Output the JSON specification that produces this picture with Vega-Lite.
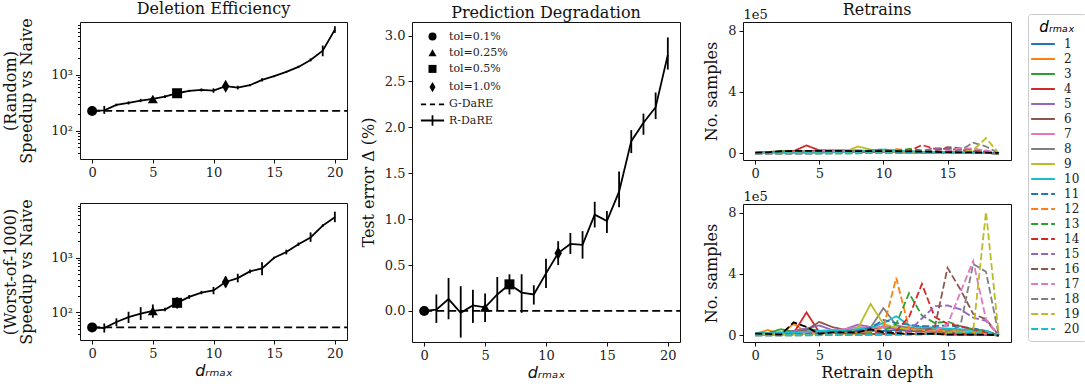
{
"$schema":"https://vega.github.io/schema/vega-lite/v6.json",
"background":"white",
"padding":{"left":2,"top":0,"right":0,"bottom":2},
"config":{
 "font":"DejaVu Serif",
 "view":{"stroke":"#111","strokeWidth":1},
 "axis":{"grid":false,"domain":false,"tickColor":"#111","tickSize":4,"tickWidth":1,"labelFont":"DejaVu Serif","labelFontSize":13,"labelColor":"#222","labelPadding":3,"labelFlush":false,"titleFont":"DejaVu Serif","titleFontSize":16,"titleFontWeight":"normal","titleColor":"#111"},
 "title":{"font":"DejaVu Serif","fontSize":16,"fontWeight":"normal","color":"#111","offset":1},
 "legend":{"labelFont":"DejaVu Serif","labelColor":"#222"}
},
"datasets":{
 "eff":[
  {"p":"Random","x":0,"y":226,"lo":215,"hi":238},{"p":"Random","x":1,"y":232,"lo":200,"hi":278},{"p":"Random","x":2,"y":289,"lo":275,"hi":305},{"p":"Random","x":3,"y":314,"lo":295,"hi":335},{"p":"Random","x":4,"y":347,"lo":325,"hi":372},{"p":"Random","x":5,"y":370,"lo":345,"hi":395},{"p":"Random","x":6,"y":408,"lo":385,"hi":432},{"p":"Random","x":7,"y":469,"lo":440,"hi":500},{"p":"Random","x":8,"y":516,"lo":495,"hi":540},{"p":"Random","x":9,"y":538,"lo":505,"hi":572},{"p":"Random","x":10,"y":523,"lo":478,"hi":575},{"p":"Random","x":11,"y":627,"lo":560,"hi":700},{"p":"Random","x":12,"y":592,"lo":550,"hi":640},{"p":"Random","x":13,"y":653,"lo":625,"hi":685},{"p":"Random","x":14,"y":813,"lo":760,"hi":870},{"p":"Random","x":15,"y":948,"lo":910,"hi":990},{"p":"Random","x":16,"y":1132,"lo":1090,"hi":1180},{"p":"Random","x":17,"y":1392,"lo":1330,"hi":1460},{"p":"Random","x":18,"y":1859,"lo":1750,"hi":1980},{"p":"Random","x":19,"y":2731,"lo":2160,"hi":3360},{"p":"Random","x":20,"y":6500,"lo":5680,"hi":7480},
  {"p":"Worst","x":0,"y":53.4,"lo":51,"hi":56},{"p":"Worst","x":1,"y":52,"lo":43,"hi":63},{"p":"Worst","x":2,"y":67,"lo":56,"hi":78},{"p":"Worst","x":3,"y":82,"lo":64,"hi":103},{"p":"Worst","x":4,"y":95,"lo":73,"hi":125},{"p":"Worst","x":5,"y":107,"lo":80,"hi":140},{"p":"Worst","x":6,"y":113,"lo":105,"hi":122},{"p":"Worst","x":7,"y":150,"lo":118,"hi":190},{"p":"Worst","x":8,"y":193,"lo":178,"hi":208},{"p":"Worst","x":9,"y":231,"lo":215,"hi":248},{"p":"Worst","x":10,"y":253,"lo":215,"hi":292},{"p":"Worst","x":11,"y":360,"lo":290,"hi":450},{"p":"Worst","x":12,"y":425,"lo":355,"hi":510},{"p":"Worst","x":13,"y":563,"lo":520,"hi":610},{"p":"Worst","x":14,"y":640,"lo":480,"hi":830},{"p":"Worst","x":15,"y":1000,"lo":960,"hi":1040},{"p":"Worst","x":16,"y":1270,"lo":1150,"hi":1400},{"p":"Worst","x":17,"y":1770,"lo":1650,"hi":1900},{"p":"Worst","x":18,"y":2350,"lo":1950,"hi":2900},{"p":"Worst","x":19,"y":3860,"lo":3650,"hi":4080},{"p":"Worst","x":20,"y":5500,"lo":4460,"hi":6950},
  {"p":"Deg","x":0,"y":0,"lo":0,"hi":0},{"p":"Deg","x":1,"y":0.015,"lo":-0.13,"hi":0.18},{"p":"Deg","x":2,"y":0.13,"lo":-0.09,"hi":0.36},{"p":"Deg","x":3,"y":-0.02,"lo":-0.29,"hi":0.27},{"p":"Deg","x":4,"y":0.06,"lo":-0.13,"hi":0.23},{"p":"Deg","x":5,"y":0.04,"lo":-0.12,"hi":0.19},{"p":"Deg","x":6,"y":0.18,"lo":0.0,"hi":0.37},{"p":"Deg","x":7,"y":0.29,"lo":0.18,"hi":0.4},{"p":"Deg","x":8,"y":0.2,"lo":-0.02,"hi":0.4},{"p":"Deg","x":9,"y":0.18,"lo":0.07,"hi":0.28},{"p":"Deg","x":10,"y":0.41,"lo":0.25,"hi":0.57},{"p":"Deg","x":11,"y":0.63,"lo":0.5,"hi":0.76},{"p":"Deg","x":12,"y":0.73,"lo":0.62,"hi":0.85},{"p":"Deg","x":13,"y":0.72,"lo":0.57,"hi":0.87},{"p":"Deg","x":14,"y":1.05,"lo":0.91,"hi":1.19},{"p":"Deg","x":15,"y":0.98,"lo":0.85,"hi":1.09},{"p":"Deg","x":16,"y":1.3,"lo":1.13,"hi":1.52},{"p":"Deg","x":17,"y":1.85,"lo":1.72,"hi":1.97},{"p":"Deg","x":18,"y":2.05,"lo":1.92,"hi":2.15},{"p":"Deg","x":19,"y":2.22,"lo":2.09,"hi":2.38},{"p":"Deg","x":20,"y":2.79,"lo":2.63,"hi":2.98}
 ],
 "tol":[
  {"p":"Random","x":0,"y":226,"tol":"tol=0.1%"},{"p":"Random","x":5,"y":370,"tol":"tol=0.25%"},{"p":"Random","x":7,"y":469,"tol":"tol=0.5%"},{"p":"Random","x":11,"y":627,"tol":"tol=1.0%"},
  {"p":"Worst","x":0,"y":53.4,"tol":"tol=0.1%"},{"p":"Worst","x":5,"y":107,"tol":"tol=0.25%"},{"p":"Worst","x":7,"y":150,"tol":"tol=0.5%"},{"p":"Worst","x":11,"y":360,"tol":"tol=1.0%"},
  {"p":"Deg","x":0,"y":0,"tol":"tol=0.1%"},{"p":"Deg","x":5,"y":0.04,"tol":"tol=0.25%"},{"p":"Deg","x":7,"y":0.29,"tol":"tol=0.5%"},{"p":"Deg","x":11,"y":0.63,"tol":"tol=1.0%"}
 ],
 "base":[
  {"p":"Random","x0":0,"x1":21,"g":226},{"p":"Worst","x0":0,"x1":21,"g":53.4},{"p":"Deg","x0":0,"x1":21,"g":0}
 ],
 "gd":[
  {"p":"R","d":0,"v":5000},{"p":"R","d":1,"v":7000},{"p":"R","d":2,"v":14000},{"p":"R","d":3,"v":16000},{"p":"R","d":4,"v":17000},{"p":"R","d":5,"v":17000},{"p":"R","d":6,"v":17000},{"p":"R","d":7,"v":16000},{"p":"R","d":8,"v":15000},{"p":"R","d":9,"v":15000},{"p":"R","d":10,"v":15000},{"p":"R","d":11,"v":14000},{"p":"R","d":12,"v":13000},{"p":"R","d":13,"v":12000},{"p":"R","d":14,"v":10000},{"p":"R","d":15,"v":8000},{"p":"R","d":16,"v":7000},{"p":"R","d":17,"v":6000},{"p":"R","d":18,"v":5000},{"p":"R","d":19,"v":3000},
  {"p":"W","d":0,"v":12000},{"p":"W","d":1,"v":10000},{"p":"W","d":2,"v":5000},{"p":"W","d":3,"v":85000},{"p":"W","d":4,"v":55000},{"p":"W","d":5,"v":10000},{"p":"W","d":6,"v":20000},{"p":"W","d":7,"v":20000},{"p":"W","d":8,"v":20000},{"p":"W","d":9,"v":40000},{"p":"W","d":10,"v":20000},{"p":"W","d":11,"v":15000},{"p":"W","d":12,"v":10000},{"p":"W","d":13,"v":10000},{"p":"W","d":14,"v":10000},{"p":"W","d":15,"v":5000},{"p":"W","d":16,"v":5000},{"p":"W","d":17,"v":5000},{"p":"W","d":18,"v":5000},{"p":"W","d":19,"v":0}
 ],
 "ret":[
  {"p":"R","s":1,"d":0,"v":5000},{"p":"R","s":1,"d":1,"v":5000},{"p":"R","s":1,"d":2,"v":8000},{"p":"R","s":1,"d":3,"v":10000},{"p":"R","s":1,"d":4,"v":10000},{"p":"R","s":1,"d":5,"v":10000},{"p":"R","s":1,"d":6,"v":10000},{"p":"R","s":1,"d":7,"v":8000},{"p":"R","s":1,"d":8,"v":8000},{"p":"R","s":1,"d":9,"v":8000},{"p":"R","s":1,"d":10,"v":8000},{"p":"R","s":1,"d":11,"v":8000},{"p":"R","s":1,"d":12,"v":7000},{"p":"R","s":1,"d":13,"v":6000},{"p":"R","s":1,"d":14,"v":5000},{"p":"R","s":1,"d":15,"v":5000},{"p":"R","s":1,"d":16,"v":4000},{"p":"R","s":1,"d":17,"v":3000},{"p":"R","s":1,"d":18,"v":2000},{"p":"R","s":1,"d":19,"v":0},
  {"p":"R","s":2,"d":0,"v":5000},{"p":"R","s":2,"d":1,"v":10000},{"p":"R","s":2,"d":2,"v":12000},{"p":"R","s":2,"d":3,"v":12000},{"p":"R","s":2,"d":4,"v":12000},{"p":"R","s":2,"d":5,"v":10000},{"p":"R","s":2,"d":6,"v":10000},{"p":"R","s":2,"d":7,"v":10000},{"p":"R","s":2,"d":8,"v":10000},{"p":"R","s":2,"d":9,"v":10000},{"p":"R","s":2,"d":10,"v":12000},{"p":"R","s":2,"d":11,"v":15000},{"p":"R","s":2,"d":12,"v":10000},{"p":"R","s":2,"d":13,"v":8000},{"p":"R","s":2,"d":14,"v":8000},{"p":"R","s":2,"d":15,"v":6000},{"p":"R","s":2,"d":16,"v":5000},{"p":"R","s":2,"d":17,"v":4000},{"p":"R","s":2,"d":18,"v":3000},{"p":"R","s":2,"d":19,"v":0},
  {"p":"R","s":3,"d":0,"v":3000},{"p":"R","s":3,"d":1,"v":8000},{"p":"R","s":3,"d":2,"v":15000},{"p":"R","s":3,"d":3,"v":15000},{"p":"R","s":3,"d":4,"v":12000},{"p":"R","s":3,"d":5,"v":12000},{"p":"R","s":3,"d":6,"v":10000},{"p":"R","s":3,"d":7,"v":10000},{"p":"R","s":3,"d":8,"v":10000},{"p":"R","s":3,"d":9,"v":8000},{"p":"R","s":3,"d":10,"v":8000},{"p":"R","s":3,"d":11,"v":10000},{"p":"R","s":3,"d":12,"v":12000},{"p":"R","s":3,"d":13,"v":8000},{"p":"R","s":3,"d":14,"v":6000},{"p":"R","s":3,"d":15,"v":5000},{"p":"R","s":3,"d":16,"v":5000},{"p":"R","s":3,"d":17,"v":4000},{"p":"R","s":3,"d":18,"v":3000},{"p":"R","s":3,"d":19,"v":0},
  {"p":"R","s":4,"d":0,"v":3000},{"p":"R","s":4,"d":1,"v":5000},{"p":"R","s":4,"d":2,"v":10000},{"p":"R","s":4,"d":3,"v":15000},{"p":"R","s":4,"d":4,"v":52000},{"p":"R","s":4,"d":5,"v":20000},{"p":"R","s":4,"d":6,"v":15000},{"p":"R","s":4,"d":7,"v":12000},{"p":"R","s":4,"d":8,"v":10000},{"p":"R","s":4,"d":9,"v":10000},{"p":"R","s":4,"d":10,"v":8000},{"p":"R","s":4,"d":11,"v":8000},{"p":"R","s":4,"d":12,"v":8000},{"p":"R","s":4,"d":13,"v":7000},{"p":"R","s":4,"d":14,"v":6000},{"p":"R","s":4,"d":15,"v":5000},{"p":"R","s":4,"d":16,"v":5000},{"p":"R","s":4,"d":17,"v":4000},{"p":"R","s":4,"d":18,"v":3000},{"p":"R","s":4,"d":19,"v":0},
  {"p":"R","s":5,"d":0,"v":2000},{"p":"R","s":5,"d":1,"v":4000},{"p":"R","s":5,"d":2,"v":6000},{"p":"R","s":5,"d":3,"v":10000},{"p":"R","s":5,"d":4,"v":12000},{"p":"R","s":5,"d":5,"v":20000},{"p":"R","s":5,"d":6,"v":15000},{"p":"R","s":5,"d":7,"v":12000},{"p":"R","s":5,"d":8,"v":10000},{"p":"R","s":5,"d":9,"v":10000},{"p":"R","s":5,"d":10,"v":8000},{"p":"R","s":5,"d":11,"v":8000},{"p":"R","s":5,"d":12,"v":7000},{"p":"R","s":5,"d":13,"v":6000},{"p":"R","s":5,"d":14,"v":5000},{"p":"R","s":5,"d":15,"v":5000},{"p":"R","s":5,"d":16,"v":4000},{"p":"R","s":5,"d":17,"v":3000},{"p":"R","s":5,"d":18,"v":2000},{"p":"R","s":5,"d":19,"v":0},
  {"p":"R","s":6,"d":0,"v":2000},{"p":"R","s":6,"d":1,"v":3000},{"p":"R","s":6,"d":2,"v":5000},{"p":"R","s":6,"d":3,"v":8000},{"p":"R","s":6,"d":4,"v":12000},{"p":"R","s":6,"d":5,"v":18000},{"p":"R","s":6,"d":6,"v":20000},{"p":"R","s":6,"d":7,"v":15000},{"p":"R","s":6,"d":8,"v":12000},{"p":"R","s":6,"d":9,"v":10000},{"p":"R","s":6,"d":10,"v":10000},{"p":"R","s":6,"d":11,"v":8000},{"p":"R","s":6,"d":12,"v":7000},{"p":"R","s":6,"d":13,"v":6000},{"p":"R","s":6,"d":14,"v":5000},{"p":"R","s":6,"d":15,"v":5000},{"p":"R","s":6,"d":16,"v":4000},{"p":"R","s":6,"d":17,"v":3000},{"p":"R","s":6,"d":18,"v":2000},{"p":"R","s":6,"d":19,"v":0},
  {"p":"R","s":7,"d":0,"v":2000},{"p":"R","s":7,"d":1,"v":3000},{"p":"R","s":7,"d":2,"v":4000},{"p":"R","s":7,"d":3,"v":6000},{"p":"R","s":7,"d":4,"v":10000},{"p":"R","s":7,"d":5,"v":12000},{"p":"R","s":7,"d":6,"v":22000},{"p":"R","s":7,"d":7,"v":22000},{"p":"R","s":7,"d":8,"v":18000},{"p":"R","s":7,"d":9,"v":15000},{"p":"R","s":7,"d":10,"v":12000},{"p":"R","s":7,"d":11,"v":10000},{"p":"R","s":7,"d":12,"v":8000},{"p":"R","s":7,"d":13,"v":7000},{"p":"R","s":7,"d":14,"v":6000},{"p":"R","s":7,"d":15,"v":5000},{"p":"R","s":7,"d":16,"v":4000},{"p":"R","s":7,"d":17,"v":3000},{"p":"R","s":7,"d":18,"v":2000},{"p":"R","s":7,"d":19,"v":0},
  {"p":"R","s":8,"d":0,"v":2000},{"p":"R","s":8,"d":1,"v":2000},{"p":"R","s":8,"d":2,"v":3000},{"p":"R","s":8,"d":3,"v":5000},{"p":"R","s":8,"d":4,"v":6000},{"p":"R","s":8,"d":5,"v":8000},{"p":"R","s":8,"d":6,"v":12000},{"p":"R","s":8,"d":7,"v":15000},{"p":"R","s":8,"d":8,"v":20000},{"p":"R","s":8,"d":9,"v":15000},{"p":"R","s":8,"d":10,"v":12000},{"p":"R","s":8,"d":11,"v":10000},{"p":"R","s":8,"d":12,"v":8000},{"p":"R","s":8,"d":13,"v":7000},{"p":"R","s":8,"d":14,"v":6000},{"p":"R","s":8,"d":15,"v":5000},{"p":"R","s":8,"d":16,"v":4000},{"p":"R","s":8,"d":17,"v":3000},{"p":"R","s":8,"d":18,"v":2000},{"p":"R","s":8,"d":19,"v":0},
  {"p":"R","s":9,"d":0,"v":1000},{"p":"R","s":9,"d":1,"v":2000},{"p":"R","s":9,"d":2,"v":3000},{"p":"R","s":9,"d":3,"v":4000},{"p":"R","s":9,"d":4,"v":5000},{"p":"R","s":9,"d":5,"v":6000},{"p":"R","s":9,"d":6,"v":8000},{"p":"R","s":9,"d":7,"v":10000},{"p":"R","s":9,"d":8,"v":45000},{"p":"R","s":9,"d":9,"v":25000},{"p":"R","s":9,"d":10,"v":15000},{"p":"R","s":9,"d":11,"v":12000},{"p":"R","s":9,"d":12,"v":10000},{"p":"R","s":9,"d":13,"v":8000},{"p":"R","s":9,"d":14,"v":7000},{"p":"R","s":9,"d":15,"v":6000},{"p":"R","s":9,"d":16,"v":5000},{"p":"R","s":9,"d":17,"v":4000},{"p":"R","s":9,"d":18,"v":3000},{"p":"R","s":9,"d":19,"v":0},
  {"p":"R","s":10,"d":0,"v":5000},{"p":"R","s":10,"d":1,"v":5000},{"p":"R","s":10,"d":2,"v":5000},{"p":"R","s":10,"d":3,"v":5000},{"p":"R","s":10,"d":4,"v":5000},{"p":"R","s":10,"d":5,"v":5000},{"p":"R","s":10,"d":6,"v":6000},{"p":"R","s":10,"d":7,"v":8000},{"p":"R","s":10,"d":8,"v":10000},{"p":"R","s":10,"d":9,"v":22000},{"p":"R","s":10,"d":10,"v":25000},{"p":"R","s":10,"d":11,"v":20000},{"p":"R","s":10,"d":12,"v":15000},{"p":"R","s":10,"d":13,"v":10000},{"p":"R","s":10,"d":14,"v":8000},{"p":"R","s":10,"d":15,"v":6000},{"p":"R","s":10,"d":16,"v":5000},{"p":"R","s":10,"d":17,"v":4000},{"p":"R","s":10,"d":18,"v":3000},{"p":"R","s":10,"d":19,"v":0},
  {"p":"R","s":11,"d":0,"v":1000},{"p":"R","s":11,"d":1,"v":2000},{"p":"R","s":11,"d":2,"v":2000},{"p":"R","s":11,"d":3,"v":3000},{"p":"R","s":11,"d":4,"v":4000},{"p":"R","s":11,"d":5,"v":5000},{"p":"R","s":11,"d":6,"v":6000},{"p":"R","s":11,"d":7,"v":8000},{"p":"R","s":11,"d":8,"v":10000},{"p":"R","s":11,"d":9,"v":15000},{"p":"R","s":11,"d":10,"v":25000},{"p":"R","s":11,"d":11,"v":20000},{"p":"R","s":11,"d":12,"v":15000},{"p":"R","s":11,"d":13,"v":12000},{"p":"R","s":11,"d":14,"v":10000},{"p":"R","s":11,"d":15,"v":8000},{"p":"R","s":11,"d":16,"v":6000},{"p":"R","s":11,"d":17,"v":5000},{"p":"R","s":11,"d":18,"v":3000},{"p":"R","s":11,"d":19,"v":0},
  {"p":"R","s":12,"d":0,"v":1000},{"p":"R","s":12,"d":1,"v":1000},{"p":"R","s":12,"d":2,"v":2000},{"p":"R","s":12,"d":3,"v":2000},{"p":"R","s":12,"d":4,"v":3000},{"p":"R","s":12,"d":5,"v":4000},{"p":"R","s":12,"d":6,"v":5000},{"p":"R","s":12,"d":7,"v":6000},{"p":"R","s":12,"d":8,"v":8000},{"p":"R","s":12,"d":9,"v":10000},{"p":"R","s":12,"d":10,"v":15000},{"p":"R","s":12,"d":11,"v":28000},{"p":"R","s":12,"d":12,"v":20000},{"p":"R","s":12,"d":13,"v":15000},{"p":"R","s":12,"d":14,"v":12000},{"p":"R","s":12,"d":15,"v":10000},{"p":"R","s":12,"d":16,"v":8000},{"p":"R","s":12,"d":17,"v":6000},{"p":"R","s":12,"d":18,"v":4000},{"p":"R","s":12,"d":19,"v":0},
  {"p":"R","s":13,"d":0,"v":1000},{"p":"R","s":13,"d":1,"v":1000},{"p":"R","s":13,"d":2,"v":1000},{"p":"R","s":13,"d":3,"v":2000},{"p":"R","s":13,"d":4,"v":2000},{"p":"R","s":13,"d":5,"v":3000},{"p":"R","s":13,"d":6,"v":4000},{"p":"R","s":13,"d":7,"v":5000},{"p":"R","s":13,"d":8,"v":6000},{"p":"R","s":13,"d":9,"v":8000},{"p":"R","s":13,"d":10,"v":10000},{"p":"R","s":13,"d":11,"v":15000},{"p":"R","s":13,"d":12,"v":30000},{"p":"R","s":13,"d":13,"v":20000},{"p":"R","s":13,"d":14,"v":15000},{"p":"R","s":13,"d":15,"v":12000},{"p":"R","s":13,"d":16,"v":10000},{"p":"R","s":13,"d":17,"v":8000},{"p":"R","s":13,"d":18,"v":5000},{"p":"R","s":13,"d":19,"v":0},
  {"p":"R","s":14,"d":0,"v":1000},{"p":"R","s":14,"d":1,"v":1000},{"p":"R","s":14,"d":2,"v":1000},{"p":"R","s":14,"d":3,"v":1000},{"p":"R","s":14,"d":4,"v":2000},{"p":"R","s":14,"d":5,"v":2000},{"p":"R","s":14,"d":6,"v":3000},{"p":"R","s":14,"d":7,"v":4000},{"p":"R","s":14,"d":8,"v":5000},{"p":"R","s":14,"d":9,"v":6000},{"p":"R","s":14,"d":10,"v":8000},{"p":"R","s":14,"d":11,"v":10000},{"p":"R","s":14,"d":12,"v":15000},{"p":"R","s":14,"d":13,"v":55000},{"p":"R","s":14,"d":14,"v":30000},{"p":"R","s":14,"d":15,"v":30000},{"p":"R","s":14,"d":16,"v":22000},{"p":"R","s":14,"d":17,"v":15000},{"p":"R","s":14,"d":18,"v":10000},{"p":"R","s":14,"d":19,"v":0},
  {"p":"R","s":15,"d":0,"v":1000},{"p":"R","s":15,"d":1,"v":1000},{"p":"R","s":15,"d":2,"v":1000},{"p":"R","s":15,"d":3,"v":1000},{"p":"R","s":15,"d":4,"v":1000},{"p":"R","s":15,"d":5,"v":2000},{"p":"R","s":15,"d":6,"v":2000},{"p":"R","s":15,"d":7,"v":3000},{"p":"R","s":15,"d":8,"v":4000},{"p":"R","s":15,"d":9,"v":5000},{"p":"R","s":15,"d":10,"v":6000},{"p":"R","s":15,"d":11,"v":8000},{"p":"R","s":15,"d":12,"v":10000},{"p":"R","s":15,"d":13,"v":15000},{"p":"R","s":15,"d":14,"v":35000},{"p":"R","s":15,"d":15,"v":32000},{"p":"R","s":15,"d":16,"v":25000},{"p":"R","s":15,"d":17,"v":20000},{"p":"R","s":15,"d":18,"v":12000},{"p":"R","s":15,"d":19,"v":0},
  {"p":"R","s":16,"d":0,"v":1000},{"p":"R","s":16,"d":1,"v":1000},{"p":"R","s":16,"d":2,"v":1000},{"p":"R","s":16,"d":3,"v":1000},{"p":"R","s":16,"d":4,"v":1000},{"p":"R","s":16,"d":5,"v":1000},{"p":"R","s":16,"d":6,"v":2000},{"p":"R","s":16,"d":7,"v":2000},{"p":"R","s":16,"d":8,"v":3000},{"p":"R","s":16,"d":9,"v":4000},{"p":"R","s":16,"d":10,"v":5000},{"p":"R","s":16,"d":11,"v":6000},{"p":"R","s":16,"d":12,"v":8000},{"p":"R","s":16,"d":13,"v":10000},{"p":"R","s":16,"d":14,"v":15000},{"p":"R","s":16,"d":15,"v":40000},{"p":"R","s":16,"d":16,"v":35000},{"p":"R","s":16,"d":17,"v":25000},{"p":"R","s":16,"d":18,"v":15000},{"p":"R","s":16,"d":19,"v":0},
  {"p":"R","s":17,"d":0,"v":1000},{"p":"R","s":17,"d":1,"v":1000},{"p":"R","s":17,"d":2,"v":1000},{"p":"R","s":17,"d":3,"v":1000},{"p":"R","s":17,"d":4,"v":1000},{"p":"R","s":17,"d":5,"v":1000},{"p":"R","s":17,"d":6,"v":1000},{"p":"R","s":17,"d":7,"v":2000},{"p":"R","s":17,"d":8,"v":2000},{"p":"R","s":17,"d":9,"v":3000},{"p":"R","s":17,"d":10,"v":4000},{"p":"R","s":17,"d":11,"v":5000},{"p":"R","s":17,"d":12,"v":6000},{"p":"R","s":17,"d":13,"v":8000},{"p":"R","s":17,"d":14,"v":10000},{"p":"R","s":17,"d":15,"v":15000},{"p":"R","s":17,"d":16,"v":35000},{"p":"R","s":17,"d":17,"v":30000},{"p":"R","s":17,"d":18,"v":20000},{"p":"R","s":17,"d":19,"v":0},
  {"p":"R","s":18,"d":0,"v":0},{"p":"R","s":18,"d":1,"v":1000},{"p":"R","s":18,"d":2,"v":1000},{"p":"R","s":18,"d":3,"v":1000},{"p":"R","s":18,"d":4,"v":1000},{"p":"R","s":18,"d":5,"v":1000},{"p":"R","s":18,"d":6,"v":1000},{"p":"R","s":18,"d":7,"v":1000},{"p":"R","s":18,"d":8,"v":2000},{"p":"R","s":18,"d":9,"v":2000},{"p":"R","s":18,"d":10,"v":3000},{"p":"R","s":18,"d":11,"v":4000},{"p":"R","s":18,"d":12,"v":5000},{"p":"R","s":18,"d":13,"v":6000},{"p":"R","s":18,"d":14,"v":8000},{"p":"R","s":18,"d":15,"v":10000},{"p":"R","s":18,"d":16,"v":20000},{"p":"R","s":18,"d":17,"v":70000},{"p":"R","s":18,"d":18,"v":45000},{"p":"R","s":18,"d":19,"v":0},
  {"p":"R","s":19,"d":0,"v":0},{"p":"R","s":19,"d":1,"v":0},{"p":"R","s":19,"d":2,"v":1000},{"p":"R","s":19,"d":3,"v":1000},{"p":"R","s":19,"d":4,"v":1000},{"p":"R","s":19,"d":5,"v":1000},{"p":"R","s":19,"d":6,"v":1000},{"p":"R","s":19,"d":7,"v":1000},{"p":"R","s":19,"d":8,"v":1000},{"p":"R","s":19,"d":9,"v":2000},{"p":"R","s":19,"d":10,"v":2000},{"p":"R","s":19,"d":11,"v":3000},{"p":"R","s":19,"d":12,"v":4000},{"p":"R","s":19,"d":13,"v":5000},{"p":"R","s":19,"d":14,"v":6000},{"p":"R","s":19,"d":15,"v":8000},{"p":"R","s":19,"d":16,"v":10000},{"p":"R","s":19,"d":17,"v":20000},{"p":"R","s":19,"d":18,"v":100000},{"p":"R","s":19,"d":19,"v":0},
  {"p":"R","s":20,"d":0,"v":1000},{"p":"R","s":20,"d":1,"v":1000},{"p":"R","s":20,"d":2,"v":1000},{"p":"R","s":20,"d":3,"v":1000},{"p":"R","s":20,"d":4,"v":1000},{"p":"R","s":20,"d":5,"v":1000},{"p":"R","s":20,"d":6,"v":1000},{"p":"R","s":20,"d":7,"v":1000},{"p":"R","s":20,"d":8,"v":1000},{"p":"R","s":20,"d":9,"v":2000},{"p":"R","s":20,"d":10,"v":2000},{"p":"R","s":20,"d":11,"v":2000},{"p":"R","s":20,"d":12,"v":3000},{"p":"R","s":20,"d":13,"v":3000},{"p":"R","s":20,"d":14,"v":4000},{"p":"R","s":20,"d":15,"v":5000},{"p":"R","s":20,"d":16,"v":5000},{"p":"R","s":20,"d":17,"v":6000},{"p":"R","s":20,"d":18,"v":8000},{"p":"R","s":20,"d":19,"v":0},
  {"p":"W","s":1,"d":0,"v":15000},{"p":"W","s":1,"d":1,"v":15000},{"p":"W","s":1,"d":2,"v":20000},{"p":"W","s":1,"d":3,"v":20000},{"p":"W","s":1,"d":4,"v":25000},{"p":"W","s":1,"d":5,"v":30000},{"p":"W","s":1,"d":6,"v":30000},{"p":"W","s":1,"d":7,"v":30000},{"p":"W","s":1,"d":8,"v":30000},{"p":"W","s":1,"d":9,"v":30000},{"p":"W","s":1,"d":10,"v":30000},{"p":"W","s":1,"d":11,"v":35000},{"p":"W","s":1,"d":12,"v":30000},{"p":"W","s":1,"d":13,"v":30000},{"p":"W","s":1,"d":14,"v":25000},{"p":"W","s":1,"d":15,"v":20000},{"p":"W","s":1,"d":16,"v":20000},{"p":"W","s":1,"d":17,"v":15000},{"p":"W","s":1,"d":18,"v":10000},{"p":"W","s":1,"d":19,"v":0},
  {"p":"W","s":2,"d":0,"v":10000},{"p":"W","s":2,"d":1,"v":35000},{"p":"W","s":2,"d":2,"v":10000},{"p":"W","s":2,"d":3,"v":75000},{"p":"W","s":2,"d":4,"v":20000},{"p":"W","s":2,"d":5,"v":15000},{"p":"W","s":2,"d":6,"v":15000},{"p":"W","s":2,"d":7,"v":10000},{"p":"W","s":2,"d":8,"v":10000},{"p":"W","s":2,"d":9,"v":10000},{"p":"W","s":2,"d":10,"v":10000},{"p":"W","s":2,"d":11,"v":10000},{"p":"W","s":2,"d":12,"v":10000},{"p":"W","s":2,"d":13,"v":10000},{"p":"W","s":2,"d":14,"v":10000},{"p":"W","s":2,"d":15,"v":10000},{"p":"W","s":2,"d":16,"v":10000},{"p":"W","s":2,"d":17,"v":5000},{"p":"W","s":2,"d":18,"v":5000},{"p":"W","s":2,"d":19,"v":0},
  {"p":"W","s":3,"d":0,"v":10000},{"p":"W","s":3,"d":1,"v":15000},{"p":"W","s":3,"d":2,"v":40000},{"p":"W","s":3,"d":3,"v":25000},{"p":"W","s":3,"d":4,"v":45000},{"p":"W","s":3,"d":5,"v":30000},{"p":"W","s":3,"d":6,"v":20000},{"p":"W","s":3,"d":7,"v":15000},{"p":"W","s":3,"d":8,"v":15000},{"p":"W","s":3,"d":9,"v":10000},{"p":"W","s":3,"d":10,"v":10000},{"p":"W","s":3,"d":11,"v":10000},{"p":"W","s":3,"d":12,"v":10000},{"p":"W","s":3,"d":13,"v":10000},{"p":"W","s":3,"d":14,"v":10000},{"p":"W","s":3,"d":15,"v":10000},{"p":"W","s":3,"d":16,"v":5000},{"p":"W","s":3,"d":17,"v":5000},{"p":"W","s":3,"d":18,"v":5000},{"p":"W","s":3,"d":19,"v":0},
  {"p":"W","s":4,"d":0,"v":5000},{"p":"W","s":4,"d":1,"v":5000},{"p":"W","s":4,"d":2,"v":10000},{"p":"W","s":4,"d":3,"v":15000},{"p":"W","s":4,"d":4,"v":150000},{"p":"W","s":4,"d":5,"v":20000},{"p":"W","s":4,"d":6,"v":20000},{"p":"W","s":4,"d":7,"v":15000},{"p":"W","s":4,"d":8,"v":15000},{"p":"W","s":4,"d":9,"v":10000},{"p":"W","s":4,"d":10,"v":10000},{"p":"W","s":4,"d":11,"v":10000},{"p":"W","s":4,"d":12,"v":10000},{"p":"W","s":4,"d":13,"v":10000},{"p":"W","s":4,"d":14,"v":10000},{"p":"W","s":4,"d":15,"v":5000},{"p":"W","s":4,"d":16,"v":5000},{"p":"W","s":4,"d":17,"v":5000},{"p":"W","s":4,"d":18,"v":5000},{"p":"W","s":4,"d":19,"v":0},
  {"p":"W","s":5,"d":0,"v":5000},{"p":"W","s":5,"d":1,"v":10000},{"p":"W","s":5,"d":2,"v":15000},{"p":"W","s":5,"d":3,"v":30000},{"p":"W","s":5,"d":4,"v":45000},{"p":"W","s":5,"d":5,"v":65000},{"p":"W","s":5,"d":6,"v":35000},{"p":"W","s":5,"d":7,"v":40000},{"p":"W","s":5,"d":8,"v":70000},{"p":"W","s":5,"d":9,"v":55000},{"p":"W","s":5,"d":10,"v":50000},{"p":"W","s":5,"d":11,"v":45000},{"p":"W","s":5,"d":12,"v":40000},{"p":"W","s":5,"d":13,"v":35000},{"p":"W","s":5,"d":14,"v":30000},{"p":"W","s":5,"d":15,"v":25000},{"p":"W","s":5,"d":16,"v":20000},{"p":"W","s":5,"d":17,"v":15000},{"p":"W","s":5,"d":18,"v":10000},{"p":"W","s":5,"d":19,"v":0},
  {"p":"W","s":6,"d":0,"v":5000},{"p":"W","s":6,"d":1,"v":5000},{"p":"W","s":6,"d":2,"v":10000},{"p":"W","s":6,"d":3,"v":20000},{"p":"W","s":6,"d":4,"v":35000},{"p":"W","s":6,"d":5,"v":88000},{"p":"W","s":6,"d":6,"v":55000},{"p":"W","s":6,"d":7,"v":35000},{"p":"W","s":6,"d":8,"v":30000},{"p":"W","s":6,"d":9,"v":35000},{"p":"W","s":6,"d":10,"v":60000},{"p":"W","s":6,"d":11,"v":45000},{"p":"W","s":6,"d":12,"v":30000},{"p":"W","s":6,"d":13,"v":25000},{"p":"W","s":6,"d":14,"v":20000},{"p":"W","s":6,"d":15,"v":15000},{"p":"W","s":6,"d":16,"v":15000},{"p":"W","s":6,"d":17,"v":10000},{"p":"W","s":6,"d":18,"v":5000},{"p":"W","s":6,"d":19,"v":0},
  {"p":"W","s":7,"d":0,"v":5000},{"p":"W","s":7,"d":1,"v":5000},{"p":"W","s":7,"d":2,"v":10000},{"p":"W","s":7,"d":3,"v":15000},{"p":"W","s":7,"d":4,"v":20000},{"p":"W","s":7,"d":5,"v":30000},{"p":"W","s":7,"d":6,"v":35000},{"p":"W","s":7,"d":7,"v":40000},{"p":"W","s":7,"d":8,"v":55000},{"p":"W","s":7,"d":9,"v":50000},{"p":"W","s":7,"d":10,"v":55000},{"p":"W","s":7,"d":11,"v":50000},{"p":"W","s":7,"d":12,"v":45000},{"p":"W","s":7,"d":13,"v":40000},{"p":"W","s":7,"d":14,"v":35000},{"p":"W","s":7,"d":15,"v":30000},{"p":"W","s":7,"d":16,"v":25000},{"p":"W","s":7,"d":17,"v":20000},{"p":"W","s":7,"d":18,"v":10000},{"p":"W","s":7,"d":19,"v":0},
  {"p":"W","s":8,"d":0,"v":5000},{"p":"W","s":8,"d":1,"v":5000},{"p":"W","s":8,"d":2,"v":5000},{"p":"W","s":8,"d":3,"v":10000},{"p":"W","s":8,"d":4,"v":10000},{"p":"W","s":8,"d":5,"v":15000},{"p":"W","s":8,"d":6,"v":20000},{"p":"W","s":8,"d":7,"v":25000},{"p":"W","s":8,"d":8,"v":35000},{"p":"W","s":8,"d":9,"v":50000},{"p":"W","s":8,"d":10,"v":178000},{"p":"W","s":8,"d":11,"v":65000},{"p":"W","s":8,"d":12,"v":50000},{"p":"W","s":8,"d":13,"v":45000},{"p":"W","s":8,"d":14,"v":40000},{"p":"W","s":8,"d":15,"v":35000},{"p":"W","s":8,"d":16,"v":30000},{"p":"W","s":8,"d":17,"v":25000},{"p":"W","s":8,"d":18,"v":15000},{"p":"W","s":8,"d":19,"v":0},
  {"p":"W","s":9,"d":0,"v":5000},{"p":"W","s":9,"d":1,"v":5000},{"p":"W","s":9,"d":2,"v":5000},{"p":"W","s":9,"d":3,"v":5000},{"p":"W","s":9,"d":4,"v":10000},{"p":"W","s":9,"d":5,"v":10000},{"p":"W","s":9,"d":6,"v":15000},{"p":"W","s":9,"d":7,"v":20000},{"p":"W","s":9,"d":8,"v":45000},{"p":"W","s":9,"d":9,"v":205000},{"p":"W","s":9,"d":10,"v":75000},{"p":"W","s":9,"d":11,"v":50000},{"p":"W","s":9,"d":12,"v":40000},{"p":"W","s":9,"d":13,"v":35000},{"p":"W","s":9,"d":14,"v":30000},{"p":"W","s":9,"d":15,"v":30000},{"p":"W","s":9,"d":16,"v":25000},{"p":"W","s":9,"d":17,"v":20000},{"p":"W","s":9,"d":18,"v":15000},{"p":"W","s":9,"d":19,"v":0},
  {"p":"W","s":10,"d":0,"v":15000},{"p":"W","s":10,"d":1,"v":15000},{"p":"W","s":10,"d":2,"v":15000},{"p":"W","s":10,"d":3,"v":20000},{"p":"W","s":10,"d":4,"v":25000},{"p":"W","s":10,"d":5,"v":30000},{"p":"W","s":10,"d":6,"v":30000},{"p":"W","s":10,"d":7,"v":35000},{"p":"W","s":10,"d":8,"v":40000},{"p":"W","s":10,"d":9,"v":50000},{"p":"W","s":10,"d":10,"v":80000},{"p":"W","s":10,"d":11,"v":125000},{"p":"W","s":10,"d":12,"v":65000},{"p":"W","s":10,"d":13,"v":55000},{"p":"W","s":10,"d":14,"v":50000},{"p":"W","s":10,"d":15,"v":45000},{"p":"W","s":10,"d":16,"v":40000},{"p":"W","s":10,"d":17,"v":35000},{"p":"W","s":10,"d":18,"v":25000},{"p":"W","s":10,"d":19,"v":0},
  {"p":"W","s":11,"d":0,"v":5000},{"p":"W","s":11,"d":1,"v":5000},{"p":"W","s":11,"d":2,"v":5000},{"p":"W","s":11,"d":3,"v":10000},{"p":"W","s":11,"d":4,"v":10000},{"p":"W","s":11,"d":5,"v":15000},{"p":"W","s":11,"d":6,"v":20000},{"p":"W","s":11,"d":7,"v":25000},{"p":"W","s":11,"d":8,"v":30000},{"p":"W","s":11,"d":9,"v":50000},{"p":"W","s":11,"d":10,"v":100000},{"p":"W","s":11,"d":11,"v":80000},{"p":"W","s":11,"d":12,"v":70000},{"p":"W","s":11,"d":13,"v":60000},{"p":"W","s":11,"d":14,"v":60000},{"p":"W","s":11,"d":15,"v":65000},{"p":"W","s":11,"d":16,"v":55000},{"p":"W","s":11,"d":17,"v":45000},{"p":"W","s":11,"d":18,"v":30000},{"p":"W","s":11,"d":19,"v":0},
  {"p":"W","s":12,"d":0,"v":2000},{"p":"W","s":12,"d":1,"v":2000},{"p":"W","s":12,"d":2,"v":3000},{"p":"W","s":12,"d":3,"v":5000},{"p":"W","s":12,"d":4,"v":5000},{"p":"W","s":12,"d":5,"v":5000},{"p":"W","s":12,"d":6,"v":10000},{"p":"W","s":12,"d":7,"v":10000},{"p":"W","s":12,"d":8,"v":15000},{"p":"W","s":12,"d":9,"v":20000},{"p":"W","s":12,"d":10,"v":50000},{"p":"W","s":12,"d":11,"v":375000},{"p":"W","s":12,"d":12,"v":45000},{"p":"W","s":12,"d":13,"v":35000},{"p":"W","s":12,"d":14,"v":30000},{"p":"W","s":12,"d":15,"v":30000},{"p":"W","s":12,"d":16,"v":25000},{"p":"W","s":12,"d":17,"v":20000},{"p":"W","s":12,"d":18,"v":15000},{"p":"W","s":12,"d":19,"v":0},
  {"p":"W","s":13,"d":0,"v":2000},{"p":"W","s":13,"d":1,"v":2000},{"p":"W","s":13,"d":2,"v":2000},{"p":"W","s":13,"d":3,"v":3000},{"p":"W","s":13,"d":4,"v":5000},{"p":"W","s":13,"d":5,"v":5000},{"p":"W","s":13,"d":6,"v":5000},{"p":"W","s":13,"d":7,"v":10000},{"p":"W","s":13,"d":8,"v":10000},{"p":"W","s":13,"d":9,"v":15000},{"p":"W","s":13,"d":10,"v":30000},{"p":"W","s":13,"d":11,"v":75000},{"p":"W","s":13,"d":12,"v":275000},{"p":"W","s":13,"d":13,"v":130000},{"p":"W","s":13,"d":14,"v":80000},{"p":"W","s":13,"d":15,"v":90000},{"p":"W","s":13,"d":16,"v":60000},{"p":"W","s":13,"d":17,"v":40000},{"p":"W","s":13,"d":18,"v":30000},{"p":"W","s":13,"d":19,"v":0},
  {"p":"W","s":14,"d":0,"v":2000},{"p":"W","s":14,"d":1,"v":2000},{"p":"W","s":14,"d":2,"v":2000},{"p":"W","s":14,"d":3,"v":2000},{"p":"W","s":14,"d":4,"v":3000},{"p":"W","s":14,"d":5,"v":5000},{"p":"W","s":14,"d":6,"v":5000},{"p":"W","s":14,"d":7,"v":5000},{"p":"W","s":14,"d":8,"v":10000},{"p":"W","s":14,"d":9,"v":10000},{"p":"W","s":14,"d":10,"v":20000},{"p":"W","s":14,"d":11,"v":30000},{"p":"W","s":14,"d":12,"v":120000},{"p":"W","s":14,"d":13,"v":335000},{"p":"W","s":14,"d":14,"v":120000},{"p":"W","s":14,"d":15,"v":75000},{"p":"W","s":14,"d":16,"v":60000},{"p":"W","s":14,"d":17,"v":40000},{"p":"W","s":14,"d":18,"v":20000},{"p":"W","s":14,"d":19,"v":0},
  {"p":"W","s":15,"d":0,"v":2000},{"p":"W","s":15,"d":1,"v":2000},{"p":"W","s":15,"d":2,"v":2000},{"p":"W","s":15,"d":3,"v":2000},{"p":"W","s":15,"d":4,"v":2000},{"p":"W","s":15,"d":5,"v":3000},{"p":"W","s":15,"d":6,"v":5000},{"p":"W","s":15,"d":7,"v":5000},{"p":"W","s":15,"d":8,"v":5000},{"p":"W","s":15,"d":9,"v":10000},{"p":"W","s":15,"d":10,"v":15000},{"p":"W","s":15,"d":11,"v":20000},{"p":"W","s":15,"d":12,"v":30000},{"p":"W","s":15,"d":13,"v":110000},{"p":"W","s":15,"d":14,"v":190000},{"p":"W","s":15,"d":15,"v":195000},{"p":"W","s":15,"d":16,"v":170000},{"p":"W","s":15,"d":17,"v":115000},{"p":"W","s":15,"d":18,"v":95000},{"p":"W","s":15,"d":19,"v":0},
  {"p":"W","s":16,"d":0,"v":2000},{"p":"W","s":16,"d":1,"v":2000},{"p":"W","s":16,"d":2,"v":2000},{"p":"W","s":16,"d":3,"v":2000},{"p":"W","s":16,"d":4,"v":2000},{"p":"W","s":16,"d":5,"v":2000},{"p":"W","s":16,"d":6,"v":3000},{"p":"W","s":16,"d":7,"v":5000},{"p":"W","s":16,"d":8,"v":5000},{"p":"W","s":16,"d":9,"v":5000},{"p":"W","s":16,"d":10,"v":10000},{"p":"W","s":16,"d":11,"v":15000},{"p":"W","s":16,"d":12,"v":20000},{"p":"W","s":16,"d":13,"v":30000},{"p":"W","s":16,"d":14,"v":50000},{"p":"W","s":16,"d":15,"v":440000},{"p":"W","s":16,"d":16,"v":300000},{"p":"W","s":16,"d":17,"v":140000},{"p":"W","s":16,"d":18,"v":105000},{"p":"W","s":16,"d":19,"v":0},
  {"p":"W","s":17,"d":0,"v":1000},{"p":"W","s":17,"d":1,"v":1000},{"p":"W","s":17,"d":2,"v":1000},{"p":"W","s":17,"d":3,"v":2000},{"p":"W","s":17,"d":4,"v":2000},{"p":"W","s":17,"d":5,"v":2000},{"p":"W","s":17,"d":6,"v":2000},{"p":"W","s":17,"d":7,"v":3000},{"p":"W","s":17,"d":8,"v":5000},{"p":"W","s":17,"d":9,"v":5000},{"p":"W","s":17,"d":10,"v":5000},{"p":"W","s":17,"d":11,"v":10000},{"p":"W","s":17,"d":12,"v":15000},{"p":"W","s":17,"d":13,"v":20000},{"p":"W","s":17,"d":14,"v":30000},{"p":"W","s":17,"d":15,"v":70000},{"p":"W","s":17,"d":16,"v":280000},{"p":"W","s":17,"d":17,"v":485000},{"p":"W","s":17,"d":18,"v":105000},{"p":"W","s":17,"d":19,"v":0},
  {"p":"W","s":18,"d":0,"v":1000},{"p":"W","s":18,"d":1,"v":1000},{"p":"W","s":18,"d":2,"v":1000},{"p":"W","s":18,"d":3,"v":1000},{"p":"W","s":18,"d":4,"v":2000},{"p":"W","s":18,"d":5,"v":2000},{"p":"W","s":18,"d":6,"v":2000},{"p":"W","s":18,"d":7,"v":2000},{"p":"W","s":18,"d":8,"v":3000},{"p":"W","s":18,"d":9,"v":5000},{"p":"W","s":18,"d":10,"v":5000},{"p":"W","s":18,"d":11,"v":5000},{"p":"W","s":18,"d":12,"v":10000},{"p":"W","s":18,"d":13,"v":15000},{"p":"W","s":18,"d":14,"v":20000},{"p":"W","s":18,"d":15,"v":30000},{"p":"W","s":18,"d":16,"v":60000},{"p":"W","s":18,"d":17,"v":465000},{"p":"W","s":18,"d":18,"v":415000},{"p":"W","s":18,"d":19,"v":0},
  {"p":"W","s":19,"d":0,"v":1000},{"p":"W","s":19,"d":1,"v":1000},{"p":"W","s":19,"d":2,"v":1000},{"p":"W","s":19,"d":3,"v":1000},{"p":"W","s":19,"d":4,"v":1000},{"p":"W","s":19,"d":5,"v":2000},{"p":"W","s":19,"d":6,"v":2000},{"p":"W","s":19,"d":7,"v":2000},{"p":"W","s":19,"d":8,"v":2000},{"p":"W","s":19,"d":9,"v":3000},{"p":"W","s":19,"d":10,"v":5000},{"p":"W","s":19,"d":11,"v":5000},{"p":"W","s":19,"d":12,"v":5000},{"p":"W","s":19,"d":13,"v":10000},{"p":"W","s":19,"d":14,"v":10000},{"p":"W","s":19,"d":15,"v":15000},{"p":"W","s":19,"d":16,"v":20000},{"p":"W","s":19,"d":17,"v":25000},{"p":"W","s":19,"d":18,"v":805000},{"p":"W","s":19,"d":19,"v":0},
  {"p":"W","s":20,"d":0,"v":1000},{"p":"W","s":20,"d":1,"v":1000},{"p":"W","s":20,"d":2,"v":1000},{"p":"W","s":20,"d":3,"v":1000},{"p":"W","s":20,"d":4,"v":1000},{"p":"W","s":20,"d":5,"v":1000},{"p":"W","s":20,"d":6,"v":2000},{"p":"W","s":20,"d":7,"v":2000},{"p":"W","s":20,"d":8,"v":2000},{"p":"W","s":20,"d":9,"v":3000},{"p":"W","s":20,"d":10,"v":3000},{"p":"W","s":20,"d":11,"v":5000},{"p":"W","s":20,"d":12,"v":5000},{"p":"W","s":20,"d":13,"v":5000},{"p":"W","s":20,"d":14,"v":10000},{"p":"W","s":20,"d":15,"v":10000},{"p":"W","s":20,"d":16,"v":15000},{"p":"W","s":20,"d":17,"v":20000},{"p":"W","s":20,"d":18,"v":30000},{"p":"W","s":20,"d":19,"v":0}
 ]
},
"spacing":21,
"hconcat":[
 {"hconcat":[
  {"vconcat":[
   {"width":267,"height":137,
    "title":{"text":"Deletion Efficiency"},
    "layer":[
     {"data":{"name":"base"},"transform":[{"filter":"datum.p=='Random'"}],
      "mark":{"type":"rule","color":"#000","strokeWidth":1.8,"strokeDash":[8,4]},
      "encoding":{"x":{"field":"x0","type":"quantitative","scale":{"domain":[-1,21],"nice":false},"axis":{"values":[0,5,10,15,20],"title":null}},
        "x2":{"field":"x1"},
        "y":{"field":"g","type":"quantitative","scale":{"type":"log","domain":[31,8900],"nice":false},
          "axis":{"values":[40,50,60,70,80,90,100,200,300,400,500,600,700,800,900,1000,2000,3000,4000,5000,6000,7000,8000],
            "labelExpr":"datum.value==100?'10²':datum.value==1000?'10³':''",
            "tickSize":{"condition":{"test":"datum.value==100||datum.value==1000","value":4.5},"value":2.5},
            "title":["(Random)","Speedup vs Naive"],"titlePadding":16,"titleLineHeight":16}}}},
     {"data":{"name":"eff"},"transform":[{"filter":"datum.p=='Random'"}],
      "mark":{"type":"line","color":"#000","strokeWidth":1.8},
      "encoding":{"x":{"field":"x","type":"quantitative"},"y":{"field":"y","type":"quantitative"}}},
     {"data":{"name":"eff"},"transform":[{"filter":"datum.p=='Random'"}],
      "mark":{"type":"rule","color":"#000","strokeWidth":1.8},
      "encoding":{"x":{"field":"x","type":"quantitative"},"y":{"field":"lo","type":"quantitative"},"y2":{"field":"hi"}}},
     {"data":{"name":"tol"},"transform":[{"filter":"datum.p=='Random'"}],
      "mark":{"type":"point","filled":true,"color":"#000","opacity":1,"size":100},
      "encoding":{"x":{"field":"x","type":"quantitative"},"y":{"field":"y","type":"quantitative"},
        "shape":{"field":"tol","type":"nominal","scale":{"domain":["tol=0.1%","tol=0.25%","tol=0.5%","tol=1.0%"],"range":["circle","triangle-up","square","M0,-1.3L0.75,0L0,1.3L-0.75,0Z"]},"legend":null}}}
    ]},
   {"width":267,"height":137,
    "layer":[
     {"data":{"name":"base"},"transform":[{"filter":"datum.p=='Worst'"}],
      "mark":{"type":"rule","color":"#000","strokeWidth":1.8,"strokeDash":[8,4]},
      "encoding":{"x":{"field":"x0","type":"quantitative","scale":{"domain":[-1,21],"nice":false},"axis":{"values":[0,5,10,15,20],"title":"dᵣₘₐₓ","titleFont":"DejaVu Sans","titleFontStyle":"italic","titlePadding":2}},
        "x2":{"field":"x1"},
        "y":{"field":"g","type":"quantitative","scale":{"type":"log","domain":[31.4,10000],"nice":false},
          "axis":{"values":[40,50,60,70,80,90,100,200,300,400,500,600,700,800,900,1000,2000,3000,4000,5000,6000,7000,8000,9000],
            "labelExpr":"datum.value==100?'10²':datum.value==1000?'10³':''",
            "tickSize":{"condition":{"test":"datum.value==100||datum.value==1000","value":4.5},"value":2.5},
            "title":["(Worst-of-1000)","Speedup vs Naive"],"titlePadding":16,"titleLineHeight":16}}}},
     {"data":{"name":"eff"},"transform":[{"filter":"datum.p=='Worst'"}],
      "mark":{"type":"line","color":"#000","strokeWidth":1.8},
      "encoding":{"x":{"field":"x","type":"quantitative"},"y":{"field":"y","type":"quantitative"}}},
     {"data":{"name":"eff"},"transform":[{"filter":"datum.p=='Worst'"}],
      "mark":{"type":"rule","color":"#000","strokeWidth":1.8},
      "encoding":{"x":{"field":"x","type":"quantitative"},"y":{"field":"lo","type":"quantitative"},"y2":{"field":"hi"}}},
     {"data":{"name":"tol"},"transform":[{"filter":"datum.p=='Worst'"}],
      "mark":{"type":"point","filled":true,"color":"#000","opacity":1,"size":100},
      "encoding":{"x":{"field":"x","type":"quantitative"},"y":{"field":"y","type":"quantitative"},
        "shape":{"field":"tol","type":"nominal","scale":{"domain":["tol=0.1%","tol=0.25%","tol=0.5%","tol=1.0%"],"range":["circle","triangle-up","square","M0,-1.3L0.75,0L0,1.3L-0.75,0Z"]},"legend":null}}}
    ]}
  ],"spacing":44,"bounds":"flush"},
  {"width":268,"height":320,
   "title":{"text":"Prediction Degradation"},
   "layer":[
    {"data":{"name":"base"},"transform":[{"filter":"datum.p=='Deg'"}],
     "mark":{"type":"rule","color":"#000","strokeWidth":1.8,"strokeDash":[8,4]},
     "encoding":{"x":{"field":"x0","type":"quantitative","scale":{"domain":[-1,21],"nice":false},"axis":{"values":[0,5,10,15,20],"title":"dᵣₘₐₓ","titleFont":"DejaVu Sans","titleFontStyle":"italic","titlePadding":2}},
       "x2":{"field":"x1"},
       "y":{"field":"g","type":"quantitative","scale":{"domain":[-0.338,3.148],"nice":false},
         "axis":{"values":[0,0.5,1,1.5,2,2.5,3],"format":".1f","title":"Test error Δ (%)","titlePadding":8}}}},
    {"data":{"name":"eff"},"transform":[{"filter":"datum.p=='Deg'"}],
     "mark":{"type":"line","color":"#000","strokeWidth":1.8},
     "encoding":{"x":{"field":"x","type":"quantitative"},"y":{"field":"y","type":"quantitative"}}},
    {"data":{"name":"eff"},"transform":[{"filter":"datum.p=='Deg'"}],
     "mark":{"type":"rule","color":"#000","strokeWidth":1.8},
     "encoding":{"x":{"field":"x","type":"quantitative"},"y":{"field":"lo","type":"quantitative"},"y2":{"field":"hi"}}},
    {"data":{"name":"tol"},"transform":[{"filter":"datum.p=='Deg'"}],
     "mark":{"type":"point","filled":true,"color":"#000","opacity":1,"size":100},
     "encoding":{"x":{"field":"x","type":"quantitative"},"y":{"field":"y","type":"quantitative"},
       "shape":{"field":"tol","type":"nominal",
         "scale":{"domain":["tol=0.1%","tol=0.25%","tol=0.5%","tol=1.0%","G-DaRE","R-DaRE"],"range":["circle","triangle-up","square","M0,-1.3L0.75,0L0,1.3L-0.75,0Z","M-2.9,-0.22H-1.6V0.22H-2.9Z M-0.65,-0.22H0.65V0.22H-0.65Z M1.6,-0.22H2.9V0.22H1.6Z","M-2.9,-0.22H2.9V0.22H-2.9Z M-0.22,-1.3H0.22V1.3H-0.22Z"]},
         "legend":{"title":null,"orient":"none","legendX":15,"legendY":9,"symbolSize":64,"symbolFillColor":"#000","labelFont":"DejaVu Serif","labelFontSize":11,"labelOffset":11,"rowPadding":2.2,"padding":0}}}}
   ]}
 ],"spacing":10,"resolve":{"scale":{"shape":"independent"},"legend":{"shape":"independent"}}},
 {"vconcat":[
  {"width":268,"height":138,
   "title":{"text":"Retrains","offset":-10},
   "layer":[
    {"data":{"name":"ret"},"transform":[{"filter":"datum.p=='R'"}],
     "mark":{"type":"line","strokeWidth":1.8},
     "encoding":{"x":{"field":"d","type":"quantitative","scale":{"domain":[-0.95,19.95],"nice":false},"axis":{"values":[0,5,10,15],"title":null}},
       "y":{"field":"v","type":"quantitative","scale":{"domain":[-43000,856000],"nice":false},"axis":{"values":[0,200000,400000,600000,800000],"labelExpr":"format(datum.value/100000,'d')","title":"No. samples","titlePadding":8}},
       "color":{"field":"s","type":"nominal","title":"dᵣₘₐₓ","scale":{"domain":[1,2,3,4,5,6,7,8,9,10,11,12,13,14,15,16,17,18,19,20],"range":["#1f77b4","#ff7f0e","#2ca02c","#d62728","#9467bd","#8c564b","#e377c2","#7f7f7f","#bcbd22","#17becf","#1f77b4","#ff7f0e","#2ca02c","#d62728","#9467bd","#8c564b","#e377c2","#7f7f7f","#bcbd22","#17becf"]},
         "legend":{"orient":"none","legendX":948,"legendY":-8,"symbolType":"M-1.5,0H1.5","symbolSize":250,"symbolStrokeWidth":2,"labelFontSize":12,"labelOffset":12,"rowPadding":0,"padding":6,"strokeColor":"#ccc","cornerRadius":3,"fillColor":"white","titleFont":"DejaVu Sans","titleFontStyle":"italic","titleFontSize":15,"titleFontWeight":"normal","titleAnchor":"middle","titlePadding":0}},
       "strokeDash":{"field":"s","type":"nominal","title":"dᵣₘₐₓ","scale":{"domain":[1,2,3,4,5,6,7,8,9,10,11,12,13,14,15,16,17,18,19,20],"range":[[1,0],[1,0],[1,0],[1,0],[1,0],[1,0],[1,0],[1,0],[1,0],[1,0],[7,3],[7,3],[7,3],[7,3],[7,3],[7,3],[7,3],[7,3],[7,3],[7,3]]}}}},
    {"data":{"name":"gd"},"transform":[{"filter":"datum.p=='R'"}],
     "mark":{"type":"line","color":"#000","strokeWidth":1.8,"strokeDash":[7,3]},
     "encoding":{"x":{"field":"d","type":"quantitative","axis":{"orient":"top","title":"1e5","labels":false,"ticks":false,"tickSize":0,"domain":false,"titleAnchor":"start","titleAlign":"left","titlePadding":1,"titleFontSize":13,"titleFont":"DejaVu Serif"}},
       "y":{"field":"v","type":"quantitative"}}}
   ],
   "resolve":{"axis":{"x":"independent"}}},
  {"width":268,"height":138,
   "layer":[
    {"data":{"name":"ret"},"transform":[{"filter":"datum.p=='W'"}],
     "mark":{"type":"line","strokeWidth":1.8},
     "encoding":{"x":{"field":"d","type":"quantitative","scale":{"domain":[-0.95,19.95],"nice":false},"axis":{"values":[0,5,10,15],"title":"Retrain depth","titlePadding":2}},
       "y":{"field":"v","type":"quantitative","scale":{"domain":[-43000,856000],"nice":false},"axis":{"values":[0,200000,400000,600000,800000],"labelExpr":"format(datum.value/100000,'d')","title":"No. samples","titlePadding":8}},
       "color":{"field":"s","type":"nominal","title":"dᵣₘₐₓ","scale":{"domain":[1,2,3,4,5,6,7,8,9,10,11,12,13,14,15,16,17,18,19,20],"range":["#1f77b4","#ff7f0e","#2ca02c","#d62728","#9467bd","#8c564b","#e377c2","#7f7f7f","#bcbd22","#17becf","#1f77b4","#ff7f0e","#2ca02c","#d62728","#9467bd","#8c564b","#e377c2","#7f7f7f","#bcbd22","#17becf"]},
         "legend":{"orient":"none","legendX":948,"legendY":-8,"symbolType":"M-1.5,0H1.5","symbolSize":250,"symbolStrokeWidth":2,"labelFontSize":12,"labelOffset":12,"rowPadding":0,"padding":6,"strokeColor":"#ccc","cornerRadius":3,"fillColor":"white","titleFont":"DejaVu Sans","titleFontStyle":"italic","titleFontSize":15,"titleFontWeight":"normal","titleAnchor":"middle","titlePadding":0}},
       "strokeDash":{"field":"s","type":"nominal","title":"dᵣₘₐₓ","scale":{"domain":[1,2,3,4,5,6,7,8,9,10,11,12,13,14,15,16,17,18,19,20],"range":[[1,0],[1,0],[1,0],[1,0],[1,0],[1,0],[1,0],[1,0],[1,0],[1,0],[7,3],[7,3],[7,3],[7,3],[7,3],[7,3],[7,3],[7,3],[7,3],[7,3]]}}}},
    {"data":{"name":"gd"},"transform":[{"filter":"datum.p=='W'"}],
     "mark":{"type":"line","color":"#000","strokeWidth":1.8,"strokeDash":[7,3]},
     "encoding":{"x":{"field":"d","type":"quantitative","axis":{"orient":"top","title":"1e5","labels":false,"ticks":false,"tickSize":0,"domain":false,"titleAnchor":"start","titleAlign":"left","titlePadding":1,"titleFontSize":13,"titleFont":"DejaVu Serif"}},
       "y":{"field":"v","type":"quantitative"}}}
   ],
   "resolve":{"axis":{"x":"independent"}}}
 ],"spacing":44,"bounds":"flush"}
]
}
